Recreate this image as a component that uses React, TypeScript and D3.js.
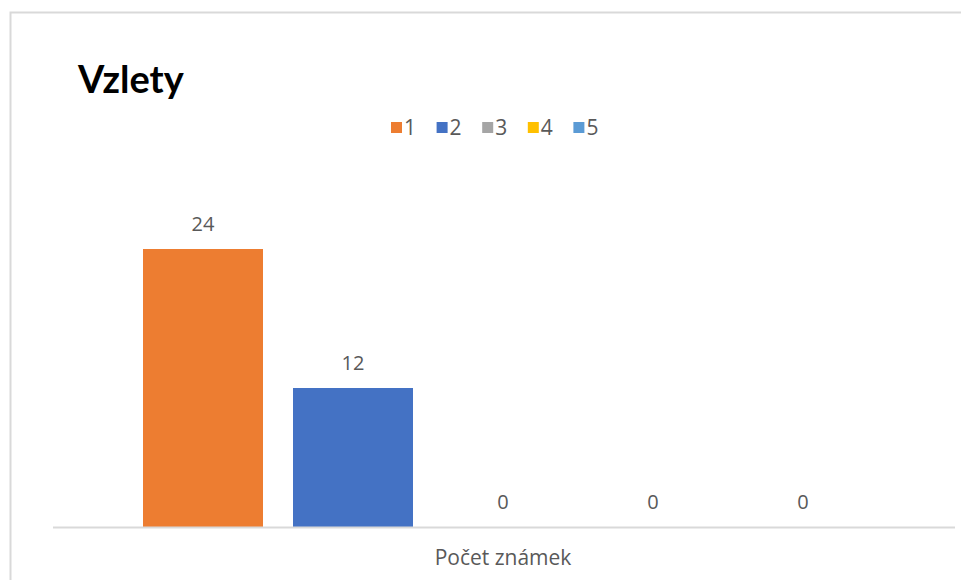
import React, { useRef, useEffect } from 'react';
import * as d3 from 'd3';

const categories = ['Počet známek'];
const seriesNames = ['1', '2', '3', '4', '5'];
const seriesValues = [24, 12, 0, 0, 0];
const seriesColors = ['#ED7D31', '#4472C4', '#A5A5A5', '#FFC000', '#5B9BD5'];
const chartTitle = 'Vzlety';

const App: React.FC = () => {
  const svgRef = useRef<SVGSVGElement>(null);

  useEffect(() => {
    if (!svgRef.current) return;
    document.body.style.margin = '0';

    const width = 961;
    const height = 580;
    const svg = d3.select(svgRef.current);
    svg.selectAll('*').remove();
    svg.attr('width', width).attr('height', height);

    const font = "'Open Sans', 'Noto Sans', sans-serif";
    const textColor = '#595959';

    // Background + frame (only top/left visible in the crop)
    svg.append('rect')
      .attr('x', 0).attr('y', 0)
      .attr('width', width).attr('height', height)
      .attr('fill', '#fff');
    svg.append('rect')
      .attr('x', 10.5).attr('y', 12.5)
      .attr('width', width).attr('height', height)
      .attr('fill', 'none')
      .attr('stroke', '#D9D9D9')
      .attr('stroke-width', 2);

    // Title
    svg.append('text')
      .attr('x', 78)
      .attr('y', 93)
      .attr('fill', '#000')
      .style('font-family', "Lato, 'Open Sans', sans-serif")
      .style('font-weight', 'bold')
      .style('font-size', '38px')
      .text(chartTitle);

    // Scales
    const plotLeft = 53;
    const plotRight = 953;
    const baseline = 527;

    const x0 = d3.scaleBand<string>()
      .domain(categories)
      .range([plotLeft, plotRight])
      .padding(1 / 11);

    const x1 = d3.scaleBand<string>()
      .domain(seriesNames)
      .range([0, x0.bandwidth()])
      .paddingInner(0.2)
      .paddingOuter(0.1);

    const y = d3.scaleLinear()
      .domain([0, 30])
      .range([baseline, 179.5]);

    // Bars
    const g = svg.append('g')
      .attr('transform', `translate(${x0(categories[0])},0)`);

    g.selectAll('rect.bar')
      .data(seriesValues)
      .join('rect')
      .attr('class', 'bar')
      .attr('x', (_, i) => x1(seriesNames[i]) as number)
      .attr('y', d => y(d))
      .attr('width', x1.bandwidth())
      .attr('height', d => baseline - y(d))
      .attr('fill', (_, i) => seriesColors[i]);

    // Value labels
    g.selectAll('text.val')
      .data(seriesValues)
      .join('text')
      .attr('class', 'val')
      .attr('x', (_, i) => (x1(seriesNames[i]) as number) + x1.bandwidth() / 2)
      .attr('y', d => y(d) - 18)
      .attr('text-anchor', 'middle')
      .attr('fill', textColor)
      .style('font-family', font)
      .style('font-size', '20px')
      .text(d => String(d));

    // Axis line
    svg.append('line')
      .attr('x1', plotLeft).attr('x2', plotRight + 2)
      .attr('y1', baseline + 0.5).attr('y2', baseline + 0.5)
      .attr('stroke', '#D9D9D9')
      .attr('stroke-width', 2);

    // Category label
    svg.append('text')
      .attr('x', (x0(categories[0]) as number) + x0.bandwidth() / 2)
      .attr('y', 565)
      .attr('text-anchor', 'middle')
      .attr('fill', textColor)
      .style('font-family', font)
      .style('font-size', '21px')
      .text(categories[0]);

    // Legend
    const legend = svg.append('g').attr('transform', 'translate(391,122)');
    const item = legend.selectAll('g')
      .data(seriesNames)
      .join('g')
      .attr('transform', (_, i) => `translate(${i * 45.6},0)`);
    item.append('rect')
      .attr('width', 11).attr('height', 11)
      .attr('fill', (_, i) => seriesColors[i]);
    item.append('text')
      .attr('x', 13)
      .attr('y', 13)
      .attr('fill', textColor)
      .style('font-family', font)
      .style('font-size', '21px')
      .text(d => d);
  }, []);

  return (
    <div style={{ width: 961, height: 580 }}>
      <svg ref={svgRef} style={{ display: 'block' }}></svg>
    </div>
  );
};

export default App;
